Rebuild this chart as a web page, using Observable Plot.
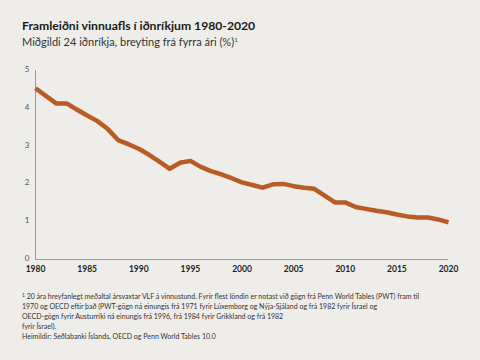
<!DOCTYPE html>
<html>
<head>
<meta charset="utf-8">
<script src="https://cdn.jsdelivr.net/npm/d3@7"></script>
<script src="https://cdn.jsdelivr.net/npm/@observablehq/plot@0.6"></script>
<style>
  html, body { margin: 0; padding: 0; background: #eeede9; }
  body { width: 480px; height: 360px; position: relative; overflow: hidden; font-family: Lato, "Open Sans", sans-serif; }
  #title { position: absolute; left: 22px; top: 18px; font-size: 12.2px; font-weight: bold; color: #1a1a1a; white-space: nowrap; }
  #subtitle { position: absolute; left: 22px; top: 35px; font-size: 11px; color: #333; white-space: nowrap; }
  #subtitle sup { font-size: 6px; vertical-align: 4px; }
  #chart { position: absolute; left: 0; top: 50px; }
  #foot { position: absolute; left: 22px; top: 291px; font-size: 7px; line-height: 9.9px; color: #333; white-space: nowrap; }
  #foot sup { font-size: 5px; vertical-align: 2px; }
</style>
</head>
<body>
<div id="title">Framleiðni vinnuafls í iðnríkjum 1980-2020</div>
<div id="subtitle">Miðgildi 24 iðnríkja, breyting frá fyrra ári (%)<sup>1</sup></div>
<div id="chart"></div>
<div id="foot"><sup>1</sup> 20 ára hreyfanlegt meðaltal ársvaxtar VLF á vinnustund. Fyrir flest löndin er notast við gögn frá Penn World Tables (PWT) fram til<br>1970 og OECD eftir það (PWT-gögn ná einungis frá 1971 fyrir Lúxemborg og Nýja-Sjáland og frá 1982 fyrir Ísrael og<br>OECD-gögn fyrir Austurríki ná einungis frá 1996,  frá 1984  fyrir Grikkland og frá 1982<br>fyrir Ísrael).<br>Heimildir: Seðlabanki Íslands, OECD og Penn World Tables 10.0</div>
<script>
const years = d3.range(1980, 2021);
const values = [4.53, 4.33, 4.13, 4.13, 3.97, 3.81, 3.66, 3.45, 3.16, 3.05,
                2.93, 2.77, 2.59, 2.40, 2.56, 2.61, 2.45, 2.34, 2.25, 2.15,
                2.04, 1.97, 1.90, 1.99, 2.00, 1.94, 1.90, 1.87, 1.69, 1.51,
                1.51, 1.39, 1.34, 1.29, 1.25, 1.19, 1.14, 1.11, 1.11, 1.06,
                0.98];
const xTicks = [1980, 1985, 1990, 1995, 2000, 2005, 2010, 2015, 2020];
const yTicks = [0, 1, 2, 3, 4, 5];

const data = years.map((year, i) => ({year, value: values[i]}));

const chart = Plot.plot({
  width: 480,
  height: 230,
  marginTop: 20,
  marginBottom: 21,
  marginLeft: 35,
  marginRight: 32,
  style: { background: "transparent", fontFamily: "Lato, 'Open Sans', sans-serif", fontSize: "8.5px", overflow: "visible" },
  x: { domain: [1980, 2020], label: null },
  y: { domain: [0, 5], label: null },
  marks: [
    Plot.ruleX([1980], { stroke: "#9a9a9a", strokeWidth: 1 }),
    Plot.ruleY([0], { stroke: "#9a9a9a", strokeWidth: 1 }),
    Plot.axisY({ ticks: yTicks, tickSize: 0, tickPadding: 6, tickFormat: d => String(d), fill: "#555", fontSize: 8, dy: -1 }),
    Plot.axisX({ ticks: xTicks, tickSize: 0, tickPadding: 6, tickFormat: d => String(d), fill: "#222", fontSize: 8.5, fontWeight: "bold" }),
    Plot.line(data, { x: "year", y: "value", stroke: "#b85b26", strokeWidth: 4.5, strokeLinejoin: "round", strokeLinecap: "butt" })
  ]
});
document.getElementById("chart").appendChild(chart);
</script>
</body>
</html>
